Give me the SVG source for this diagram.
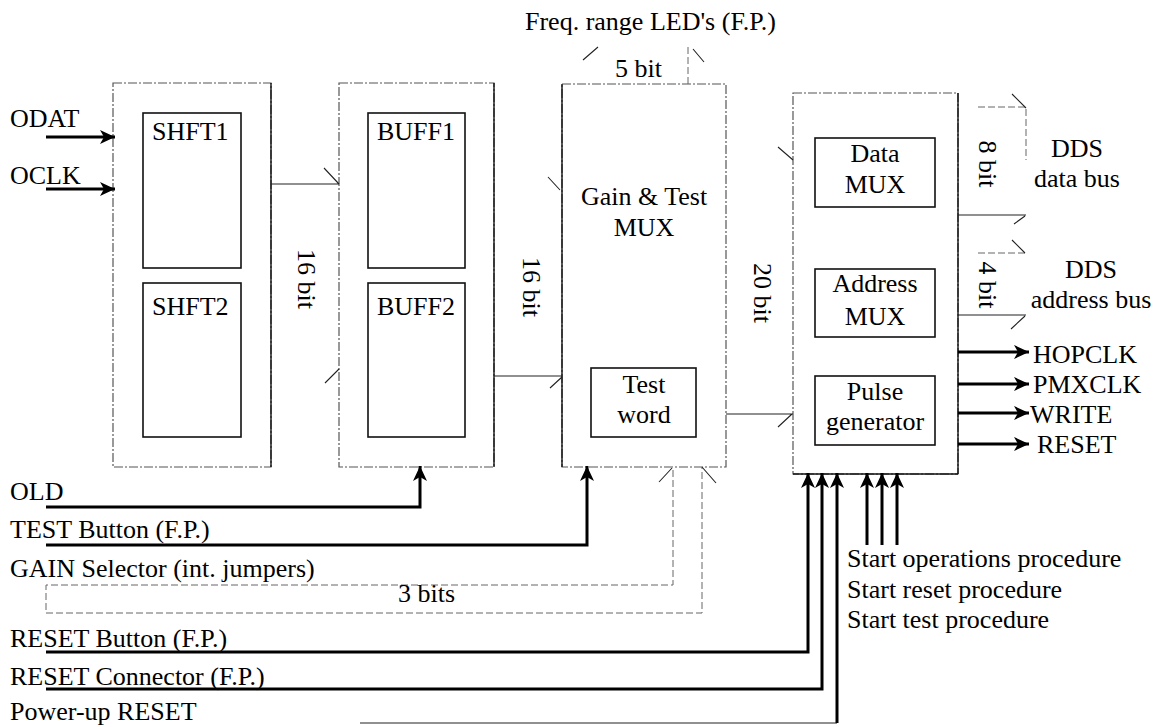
<svg xmlns="http://www.w3.org/2000/svg" width="1159" height="727" viewBox="0 0 1159 727">
<style>
text{font-family:"Liberation Serif","Times New Roman",serif;font-size:26px;fill:#000}
.mid{text-anchor:middle}
.outer{fill:none;stroke:#555;stroke-width:1.2;stroke-dasharray:9 2 2 2}
.edge{stroke:#111;stroke-width:1.4;fill:none}
.inner{fill:none;stroke:#111;stroke-width:1.6}
.bus{fill:none;stroke:#222;stroke-width:1.1}
.faint{fill:none;stroke:#666;stroke-width:1;stroke-dasharray:7 3}
.sig{fill:none;stroke:#000;stroke-width:3}
.sigin{fill:none;stroke:#000;stroke-width:3;marker-end:url(#ah)}
</style>
<defs>
<marker id="ah" markerUnits="userSpaceOnUse" markerWidth="16" markerHeight="14" refX="15" refY="7" orient="auto">
<path d="M0,0 L15,7 L0,14 L4,7 z" fill="#000"/>
</marker>
</defs>

<g id="shift-block">
<rect class="outer" x="113" y="83" width="158" height="384"/>
<line class="edge" x1="271" y1="83" x2="271" y2="467"/>
<rect class="inner" x="143" y="113" width="98" height="155"/>
<text x="152" y="140">SHFT1</text>
<rect class="inner" x="143" y="283" width="98" height="154"/>
<text x="152" y="315">SHFT2</text>
</g>

<g id="buffer-block">
<rect class="outer" x="339" y="83" width="155" height="384"/>
<line class="edge" x1="494" y1="83" x2="494" y2="467"/>
<rect class="inner" x="368" y="113" width="97" height="155"/>
<text x="377" y="140">BUFF1</text>
<rect class="inner" x="368" y="283" width="97" height="154"/>
<text x="377" y="315">BUFF2</text>
</g>

<g id="gain-mux">
<rect class="outer" x="562" y="84" width="164" height="383"/>
<line class="edge" x1="562" y1="84" x2="562" y2="467"/>
<text class="mid" x="644" y="205">Gain &amp; Test</text>
<text class="mid" x="644" y="236">MUX</text>
<rect class="inner" x="591" y="368" width="105" height="69"/>
<text class="mid" x="644" y="393">Test</text>
<text class="mid" x="644" y="423">word</text>
</g>

<g id="output-block">
<rect class="outer" x="793" y="93" width="165" height="381"/>
<line class="edge" x1="958" y1="93" x2="958" y2="474"/>
<line class="edge" x1="793" y1="474" x2="958" y2="474"/>
<rect class="inner" x="815" y="138" width="120" height="69"/>
<text class="mid" x="875" y="162">Data</text>
<text class="mid" x="875" y="193">MUX</text>
<rect class="inner" x="815" y="269" width="120" height="68"/>
<text class="mid" x="875" y="292">Address</text>
<text class="mid" x="875" y="325">MUX</text>
<rect class="inner" x="815" y="376" width="120" height="69"/>
<text class="mid" x="875" y="400">Pulse</text>
<text class="mid" x="875" y="430">generator</text>
</g>

<g id="connectors">
<!-- inputs to shifters -->
<path class="sigin" d="M46,137 H115"/>
<path class="sigin" d="M46,189 H115"/>
<!-- 16 bit bus shift->buffer -->
<path class="bus" d="M271,184 H339 M324,168 L339,184 M325,383 L339,369"/>
<!-- 16 bit bus buffer->gain -->
<path class="bus" d="M494,376 H562 M548,177 L560,190 M550,388 L562,377"/>
<!-- 20 bit bus gain->output -->
<path class="bus" d="M726,414 H793 M778,147 L793,160 M778,427 L792,414"/>
<!-- 5 bit bus to LEDs -->
<path class="faint" d="M688,47 V84"/>
<path class="bus" d="M583,60 L598,47 M693,49 L704,62"/>
<!-- 8 bit and 4 bit DDS buses -->
<path class="faint" d="M978,107 H1026 V160"/>
<path class="bus" d="M1012,94 L1026,108 M958,215 H1026 M1014,224 L1025,216"/>
<path class="faint" d="M978,253 H1026"/>
<path class="bus" d="M1012,240 L1025,253 M958,315 H1026 M1011,329 L1025,316"/>
<!-- outputs -->
<path class="sigin" d="M958,352 H1029"/>
<path class="sigin" d="M958,384 H1029"/>
<path class="sigin" d="M958,413 H1029"/>
<path class="sigin" d="M958,444 H1029"/>
<!-- OLD and TEST -->
<path class="sigin" d="M46,507 H420 V466"/>
<path class="sigin" d="M46,545 H587 V466"/>
<!-- GAIN selector 3 bits -->
<path class="faint" d="M673,470 V585 H46 V613 H702 V467"/>
<path class="bus" d="M659,482 L672,468 M702,467 L716,483"/>
<!-- reset lines -->
<path class="sigin" d="M46,652 H808 V473"/>
<path class="sigin" d="M46,689 H822 V473"/>
<path class="bus" d="M360,723 H837"/>
<path class="sigin" d="M837,723 V473"/>
<!-- start procedures -->
<path class="sigin" d="M867,545 V473"/>
<path class="sigin" d="M882,545 V473"/>
<path class="sigin" d="M897,545 V473"/>
</g>

<g id="labels">
<text x="525" y="30">Freq. range LED's (F.P.)</text>
<text x="615" y="77">5 bit</text>
<text x="10" y="127">ODAT</text>
<text x="10" y="184">OCLK</text>
<text transform="translate(298,279) rotate(90)" class="mid">16 bit</text>
<text transform="translate(523,287) rotate(90)" class="mid">16 bit</text>
<text transform="translate(754,293) rotate(90)" class="mid">20 bit</text>
<text transform="translate(979,164) rotate(90)" class="mid">8 bit</text>
<text transform="translate(979,285) rotate(90)" class="mid">4 bit</text>
<text class="mid" x="1077" y="157">DDS</text>
<text class="mid" x="1077" y="187">data bus</text>
<text class="mid" x="1091" y="278">DDS</text>
<text class="mid" x="1091" y="308">address bus</text>
<text x="1033" y="363">HOPCLK</text>
<text x="1033" y="393">PMXCLK</text>
<text x="1030" y="423">WRITE</text>
<text x="1037" y="453">RESET</text>
<text x="10" y="500">OLD</text>
<text x="10" y="538">TEST Button (F.P.)</text>
<text x="10" y="577">GAIN Selector (int. jumpers)</text>
<text x="398" y="602">3 bits</text>
<text x="10" y="647">RESET Button (F.P.)</text>
<text x="10" y="685">RESET Connector (F.P.)</text>
<text x="10" y="720">Power-up RESET</text>
<text x="847" y="567">Start operations procedure</text>
<text x="847" y="598">Start reset procedure</text>
<text x="847" y="628">Start test procedure</text>
</g>
</svg>
